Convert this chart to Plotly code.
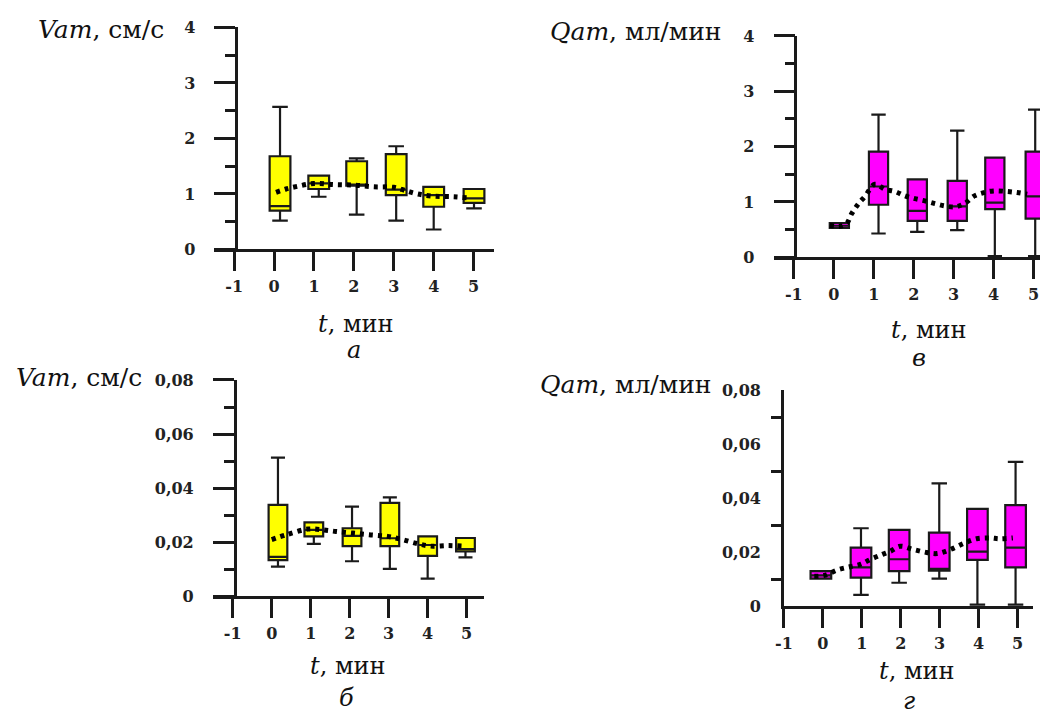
import plotly.graph_objects as go

# ---------------- data ----------------
t_ticks = [-1, 0, 1, 2, 3, 4, 5]
t_tick_text = ["-1", "0", "1", "2", "3", "4", "5"]

# Panel а : Vam, см/с
a_x = [0.15, 1.12, 2.07, 3.06, 4.0, 5.01]
a_low = [0.52, 0.95, 0.63, 0.52, 0.36, 0.74]
a_q1 = [0.70, 1.09, 1.15, 0.98, 0.77, 0.84]
a_med = [0.78, 1.19, 1.17, 1.08, 0.98, 0.92]
a_q3 = [1.68, 1.33, 1.59, 1.72, 1.13, 1.09]
a_high = [2.57, 1.33, 1.64, 1.86, 1.13, 1.09]
a_trend_t = [0.05, 0.3, 0.6, 1.0, 1.5, 2.0, 2.5, 3.0, 3.3, 3.6, 4.0, 4.5, 4.85]
a_trend_v = [1.03, 1.09, 1.14, 1.19, 1.17, 1.16, 1.13, 1.12, 1.06, 1.0, 0.96, 0.95, 0.93]

# Panel в : Qam, мл/мин
v_x = [0.14, 1.12, 2.09, 3.09, 4.03, 5.04]
v_low = [0.53, 0.43, 0.46, 0.49, 0.02, 0.02]
v_q1 = [0.53, 0.95, 0.66, 0.66, 0.87, 0.70]
v_med = [0.57, 1.28, 0.84, 0.92, 0.99, 1.10]
v_q3 = [0.62, 1.91, 1.41, 1.38, 1.80, 1.91]
v_high = [0.62, 2.58, 1.41, 2.29, 1.80, 2.67]
v_trend_t = [-0.1, 0.15, 0.33, 0.45, 0.62, 0.78, 1.03, 1.28, 1.53, 1.78, 2.03,
             2.28, 2.53, 2.77, 3.02, 3.27, 3.52, 3.76, 4.0, 4.34, 4.59, 4.84]
v_trend_v = [0.58, 0.56, 0.62, 0.79, 0.97, 1.10, 1.32, 1.23, 1.19, 1.11, 1.06,
             1.02, 0.97, 0.93, 0.91, 0.97, 1.11, 1.17, 1.20, 1.19, 1.17, 1.14]

# Panel б : Vam, см/с (small scale)
b_x = [0.16, 1.08, 2.06, 3.03, 4.0, 4.97]
b_low = [0.0110, 0.0194, 0.0130, 0.0102, 0.0066, 0.0144]
b_q1 = [0.0134, 0.0222, 0.0186, 0.0186, 0.0150, 0.0166]
b_med = [0.0146, 0.0246, 0.0224, 0.0215, 0.0190, 0.0175]
b_q3 = [0.0338, 0.0274, 0.0252, 0.0346, 0.0222, 0.0216]
b_high = [0.0513, 0.0274, 0.0332, 0.0366, 0.0222, 0.0216]
b_trend_t = [0.0, 0.38, 0.93, 1.31, 1.65, 2.08, 2.5, 2.97, 3.35, 3.77, 4.07, 4.53, 4.91]
b_trend_v = [0.0210, 0.0228, 0.0249, 0.0246, 0.0240, 0.0234, 0.0228, 0.0222,
             0.0210, 0.0194, 0.0186, 0.0188, 0.0186]

# Panel г : Qam, мл/мин (small scale)
g_x = [-0.05, 0.98, 1.96, 2.99, 3.97, 4.95]
g_low = [0.0102, 0.0042, 0.0087, 0.0102, 0.0006, 0.0006]
g_q1 = [0.0102, 0.0106, 0.0130, 0.0132, 0.0172, 0.0144]
g_med = [0.0114, 0.0144, 0.0174, 0.0138, 0.0202, 0.0217]
g_q3 = [0.0130, 0.0217, 0.0283, 0.0273, 0.0361, 0.0375]
g_high = [0.0130, 0.0289, 0.0283, 0.0455, 0.0361, 0.0535]
g_trend_t = [-0.22, 0.04, 0.38, 0.72, 0.98, 1.23, 1.53, 1.74, 1.99, 2.33, 2.67,
             2.93, 3.27, 3.65, 3.95, 4.29, 4.54, 4.88]
g_trend_v = [0.0111, 0.0114, 0.0135, 0.0147, 0.0156, 0.0174, 0.0192, 0.0204,
             0.0222, 0.0210, 0.0199, 0.0195, 0.0210, 0.0235, 0.0250, 0.0253,
             0.0250, 0.0253]

y_major_big = [0, 1, 2, 3, 4]
y_major_small = [0, 0.02, 0.04, 0.06, 0.08]
g_minor_ticks = [0.01, 0.03, 0.05, 0.07]

# ---------------- styling ----------------
YELLOW = "#FFFF00"
MAGENTA = "#FF00FF"
INK = "#1a1a1a"
SERIF = "DejaVu Serif"

fig = go.Figure()


def add_panel(xs, lo, q1, med, q3, hi, tt, tv, fill, width, xa, ya):
    fig.add_trace(go.Box(
        x=xs, q1=q1, median=med, q3=q3, lowerfence=lo, upperfence=hi,
        fillcolor=fill, line=dict(color=INK, width=2.2), width=width,
        whiskerwidth=0.75, boxpoints=False, showlegend=False,
        xaxis=xa, yaxis=ya, hoverinfo="skip"))
    fig.add_trace(go.Scatter(
        x=tt, y=tv, mode="lines", line=dict(color="black", width=5,
                                           dash="4px,5px", shape="spline",
                                           smoothing=1.0),
        showlegend=False, xaxis=xa, yaxis=ya, hoverinfo="skip"))


add_panel(a_x, a_low, a_q1, a_med, a_q3, a_high, a_trend_t, a_trend_v,
          YELLOW, 0.52, "x", "y")
add_panel(v_x, v_low, v_q1, v_med, v_q3, v_high, v_trend_t, v_trend_v,
          MAGENTA, 0.48, "x2", "y2")
add_panel(b_x, b_low, b_q1, b_med, b_q3, b_high, b_trend_t, b_trend_v,
          YELLOW, 0.48, "x3", "y3")
add_panel(g_x, g_low, g_q1, g_med, g_q3, g_high, g_trend_t, g_trend_v,
          MAGENTA, 0.53, "x4", "y4")

tickfont = dict(family=SERIF, size=16, color="#222", weight="bold")
common = dict(showgrid=False, zeroline=False, showline=True, linecolor=INK,
              linewidth=2.5, tickcolor=INK, tickwidth=2.5, tickfont=tickfont)


def xax(domain, rng, anchor):
    return dict(common, domain=domain, range=rng, anchor=anchor,
                tickmode="array", tickvals=t_ticks, ticktext=t_tick_text,
                ticks="outside", ticklen=19, ticklabelstandoff=2)


def yax_big(domain, pos):
    return dict(common, domain=domain, range=[0, 4], anchor="free",
                position=pos, tickmode="array", tickvals=y_major_big,
                ticks="outside", ticklen=21, ticklabelstandoff=16,
                minor=dict(dtick=0.5, tick0=0, ticks="outside", ticklen=10,
                           tickwidth=2.5, tickcolor=INK))


def yax_small(domain, pos):
    return dict(common, domain=domain, range=[0, 0.08], anchor="free",
                position=pos, tickmode="array", tickvals=y_major_small,
                ticks="outside", ticklen=21, ticklabelstandoff=16,
                minor=dict(dtick=0.01, tick0=0, ticks="outside", ticklen=10,
                           tickwidth=2.5, tickcolor=INK))


layout_g_y = dict(common, domain=[0.1505, 0.4575], range=[0, 0.08],
                  anchor="x4", tickmode="array", tickvals=y_major_small,
                  ticks="", ticklabelstandoff=17,
                  minor=dict(tickmode="array", tickvals=g_minor_ticks,
                             ticks="outside", ticklen=10, tickwidth=2.5,
                             tickcolor=INK))

fig.update_layout(
    width=1040, height=722, margin=dict(l=0, r=0, t=0, b=0),
    paper_bgcolor="white", plot_bgcolor="rgba(0,0,0,0)",
    separators=", ",
    xaxis=xax([0.199, 0.470], [-1.5, 5.5], "y"),
    yaxis=yax_big([0.6579, 0.9737], 0.2204),
    xaxis2=xax([0.7418, 1.0], [-1.5, 5.16], "y2"),
    yaxis2=yax_big([0.6468, 0.9616], 0.7628),
    xaxis3=xax([0.1981, 0.4609], [-1.5, 5.45], "y3"),
    yaxis3=yax_small([0.1644, 0.4723], 0.2189),
    xaxis4=xax([0.7516, 0.9933], [-1, 5.4], "y4"),
    yaxis4=layout_g_y,
    showlegend=False,
)

TITLE_FONT = dict(family=SERIF, size=25, color="#111")
LABEL_FONT = dict(family=SERIF, size=24, color="#111")


def ann(text, xpx, ypx, font, xanchor="center"):
    fig.add_annotation(text=text, x=xpx / 1040, y=1 - ypx / 722, xref="paper",
                       yref="paper", showarrow=False, xanchor=xanchor,
                       yanchor="middle", font=font, borderpad=0)


ann("<i>Vam</i>, см/с", 28, 21, TITLE_FONT, "left")
ann("<i>Qam</i>, мл/мин", 545, 23, TITLE_FONT, "left")
ann("<i>Vam</i>, см/с", 6, 378, TITLE_FONT, "left")
ann("<i>Qam</i>, мл/мин", 535, 386, TITLE_FONT, "left")

ann("<i>t</i>, мин", 350, 324, LABEL_FONT)
ann("<i>а</i>", 348, 350, LABEL_FONT)
ann("<i>t</i>, мин", 928, 330, LABEL_FONT)
ann("<i>в</i>", 918, 358, LABEL_FONT)
ann("<i>t</i>, мин", 342, 675, LABEL_FONT)
ann("<i>б</i>", 340, 708, LABEL_FONT)
ann("<i>t</i>, мин", 916, 680, LABEL_FONT)
ann("<i>г</i>", 908, 711, LABEL_FONT)

fig.write_html("out.html")
